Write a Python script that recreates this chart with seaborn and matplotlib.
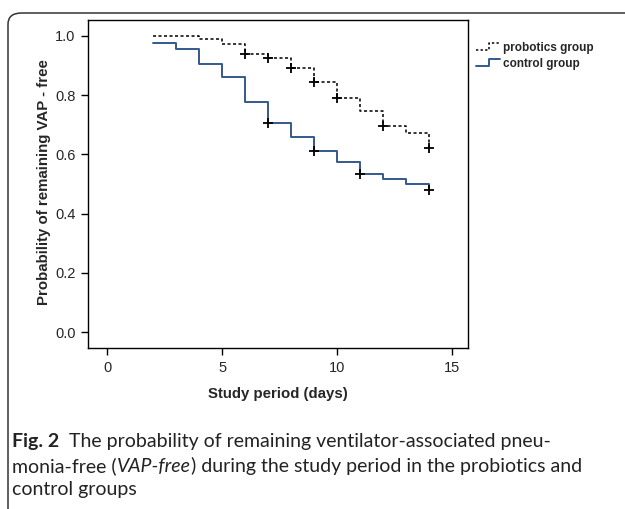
import matplotlib
matplotlib.use("Agg")
import matplotlib.pyplot as plt
from matplotlib.lines import Line2D
from matplotlib.legend_handler import HandlerLine2D
from matplotlib.patches import FancyBboxPatch
import pandas as pd
import seaborn as sns

# Kaplan-Meier steps
days_pro = [2, 4, 5, 6, 7, 8, 9, 10, 11, 12, 13, 14]
surv_pro = [1.0, 0.99, 0.972, 0.94, 0.925, 0.893, 0.845, 0.79, 0.748, 0.696, 0.673, 0.62]
cens_pro_days = [6, 7, 8, 9, 10, 12, 14]
cens_pro_surv = [0.94, 0.925, 0.893, 0.845, 0.79, 0.696, 0.62]

days_ctl = [2, 3, 4, 5, 6, 7, 8, 9, 10, 11, 12, 13, 14]
surv_ctl = [0.975, 0.956, 0.905, 0.86, 0.777, 0.707, 0.658, 0.613, 0.576, 0.533, 0.516, 0.50, 0.48]
cens_ctl_days = [7, 9, 11, 14]
cens_ctl_surv = [0.707, 0.613, 0.533, 0.48]

groups = ["probotics group", "control group"]
x_ticks = [0, 5, 10, 15]
y_ticks = [0.0, 0.2, 0.4, 0.6, 0.8, 1.0]

BLUE = "#34598f"

sns.set_theme(style="ticks")
plt.rcParams["font.family"] = ["Liberation Sans", "DejaVu Sans"]

curves = pd.concat([
    pd.DataFrame({"day": days_pro, "surv": surv_pro, "group": groups[0]}),
    pd.DataFrame({"day": days_ctl, "surv": surv_ctl, "group": groups[1]}),
])
censored = pd.DataFrame({"day": cens_pro_days + cens_ctl_days,
                         "surv": cens_pro_surv + cens_ctl_surv})


class StepHandler(HandlerLine2D):
    # little step glyph like the SPSS legend
    def create_artists(self, legend, orig_handle, xdescent, ydescent,
                       width, height, fontsize, trans):
        x0, y0 = -xdescent, -ydescent
        xs = [x0, x0 + 0.55 * width, x0 + 0.55 * width, x0 + width]
        ys = [y0 + 0.1 * height, y0 + 0.1 * height, y0 + 0.95 * height, y0 + 0.95 * height]
        line = Line2D(xs, ys)
        self.update_prop(line, orig_handle, legend)
        line.set_transform(trans)
        return [line]


fig = plt.figure(figsize=(6.25, 5.09), dpi=100)
ax = fig.add_axes([88 / 625, 1 - 348 / 509, 380 / 625, 328 / 509])

for g, color, ls, lw in ((groups[0], "black", (0, (2, 1.6)), 1.1),
                         (groups[1], BLUE, "-", 1.4)):
    sns.lineplot(curves[curves.group == g], x="day", y="surv", color=color,
                 linestyle=ls, linewidth=lw, drawstyle="steps-post",
                 estimator=None, ax=ax, legend=False)
sns.scatterplot(censored, x="day", y="surv", marker="+", color="black",
                s=55, linewidth=1.3, ax=ax, legend=False, zorder=5)

ax.set_xlim(-0.83, 15.7)
ax.set_ylim(-0.054, 1.054)
ax.set_xticks(x_ticks)
ax.set_yticks(y_ticks)
ax.set_yticklabels([f"{v:.1f}" for v in y_ticks])
ax.tick_params(length=5, width=1, labelsize=10.5, color="black", pad=4)
for s in ax.spines.values():
    s.set_linewidth(1)
    s.set_color("black")
ax.set_xlabel("Study period (days)", fontsize=10.8, fontweight="bold")
ax.set_ylabel("Probability of remaining VAP - free", fontsize=10.8, fontweight="bold")
ax.xaxis.set_label_coords(0.5, -0.12)
ax.yaxis.set_label_coords(-0.097, 0.506)

handles = [Line2D([], [], color="black", linestyle=(0, (1.5, 1.5)), linewidth=1.1),
           Line2D([], [], color=BLUE, linewidth=1.4)]
fig.legend(handles, groups, loc="upper left", bbox_to_anchor=(476 / 625, 1 - 42 / 509),
           frameon=False, handlelength=2.0, handletextpad=0.3, labelspacing=0.35,
           borderaxespad=0, borderpad=0,
           prop={"weight": "bold", "size": 8.5},
           handler_map={Line2D: StepHandler()})

# rounded frame around the figure
frame = FancyBboxPatch((8 / 625, -0.1), 1.2, 1 - 13 / 509 + 0.1,
                       boxstyle="round,pad=0,rounding_size=0.022",
                       transform=fig.transFigure, fill=False,
                       edgecolor="#333333", linewidth=1.1, clip_on=False)
fig.patches.append(frame)

# caption with mixed styles
cap_font = ["Lato", "DejaVu Sans"]
cap_size = 14
renderer = fig.canvas.get_renderer()


def put_runs(x_px, y_px, runs):
    x = x_px / 625
    for txt, weight, style in runs:
        t = fig.text(x, 1 - y_px / 509, txt, fontsize=cap_size, family=cap_font,
                     fontweight=weight, fontstyle=style, va="center", ha="left",
                     color="#222222")
        x += t.get_window_extent(renderer).width / fig.bbox.width


put_runs(12, 441, [("Fig. 2", "bold", "normal"),
                   ("  The probability of remaining ventilator-associated pneu-", "normal", "normal")])
put_runs(12, 466, [("monia-free (", "normal", "normal"),
                   ("VAP-free", "normal", "italic"),
                   (") during the study period in the probiotics and", "normal", "normal")])
put_runs(12, 490, [("control groups", "normal", "normal")])

fig.savefig("out.png", dpi=100)
